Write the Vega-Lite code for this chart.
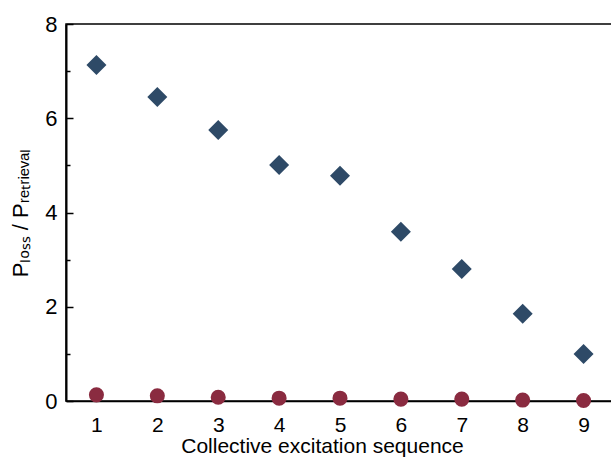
{
  "$schema": "https://vega.github.io/schema/vega-lite/v6.json",
  "width": 548,
  "height": 377,
  "autosize": "none",
  "padding": {"left": 66, "top": 24, "right": 0, "bottom": 56},
  "background": "white",
  "config": {
    "view": {"stroke": "black", "strokeWidth": 1.5},
    "font": "Liberation Sans",
    "axis": {"grid": false, "domainColor": "black", "tickColor": "black", "labelColor": "black", "titleColor": "black", "titleFontWeight": "normal"}
  },
  "data": {
    "values": [
      {"seq": 1, "ratio": 7.13, "series": "A"},
      {"seq": 2, "ratio": 6.45, "series": "A"},
      {"seq": 3, "ratio": 5.75, "series": "A"},
      {"seq": 4, "ratio": 5.01, "series": "A"},
      {"seq": 5, "ratio": 4.78, "series": "A"},
      {"seq": 6, "ratio": 3.59, "series": "A"},
      {"seq": 7, "ratio": 2.80, "series": "A"},
      {"seq": 8, "ratio": 1.85, "series": "A"},
      {"seq": 9, "ratio": 1.00, "series": "A"},
      {"seq": 1, "ratio": 0.13, "series": "B"},
      {"seq": 2, "ratio": 0.11, "series": "B"},
      {"seq": 3, "ratio": 0.08, "series": "B"},
      {"seq": 4, "ratio": 0.06, "series": "B"},
      {"seq": 5, "ratio": 0.06, "series": "B"},
      {"seq": 6, "ratio": 0.04, "series": "B"},
      {"seq": 7, "ratio": 0.04, "series": "B"},
      {"seq": 8, "ratio": 0.02, "series": "B"},
      {"seq": 9, "ratio": 0.01, "series": "B"}
    ]
  },
  "mark": {"type": "point", "filled": true, "opacity": 1, "clip": false},
  "encoding": {
    "x": {
      "field": "seq", "type": "quantitative",
      "scale": {"domain": [0.5, 9.5], "nice": false, "zero": false},
      "axis": {
        "values": [1, 2, 3, 4, 5, 6, 7, 8, 9],
        "ticks": false,
        "domainWidth": 1.5,
        "labelFontSize": 21,
        "labelPadding": 13,
        "title": "Collective excitation sequence",
        "titleFontSize": 21,
        "titlePadding": 0,
        "titleX": 256
      }
    },
    "y": {
      "field": "ratio", "type": "quantitative",
      "scale": {"domain": [0, 8], "nice": false},
      "axis": {
        "values": [0, 1, 2, 3, 4, 5, 6, 7, 8],
        "labelExpr": "datum.value % 2 === 0 ? datum.label : ''",
        "tickSize": {"condition": {"test": "datum.value % 2 === 0", "value": -7}, "value": -4},
        "tickWidth": 1.5,
        "domainWidth": 2,
        "labelFontSize": 22,
        "labelPadding": 16,
        "title": "Pₗₒₛₛ / Pᵣₑₜᵣᵢₑᵥₐₗ",
        "titleFontSize": 22,
        "titleX": -34
      }
    },
    "shape": {"field": "series", "type": "nominal", "scale": {"domain": ["A", "B"], "range": ["diamond", "circle"]}, "legend": null},
    "color": {"field": "series", "type": "nominal", "scale": {"domain": ["A", "B"], "range": ["#2e4a67", "#8a2b40"]}, "legend": null},
    "size": {"field": "series", "type": "nominal", "scale": {"domain": ["A", "B"], "range": [400, 227]}, "legend": null}
  }
}
